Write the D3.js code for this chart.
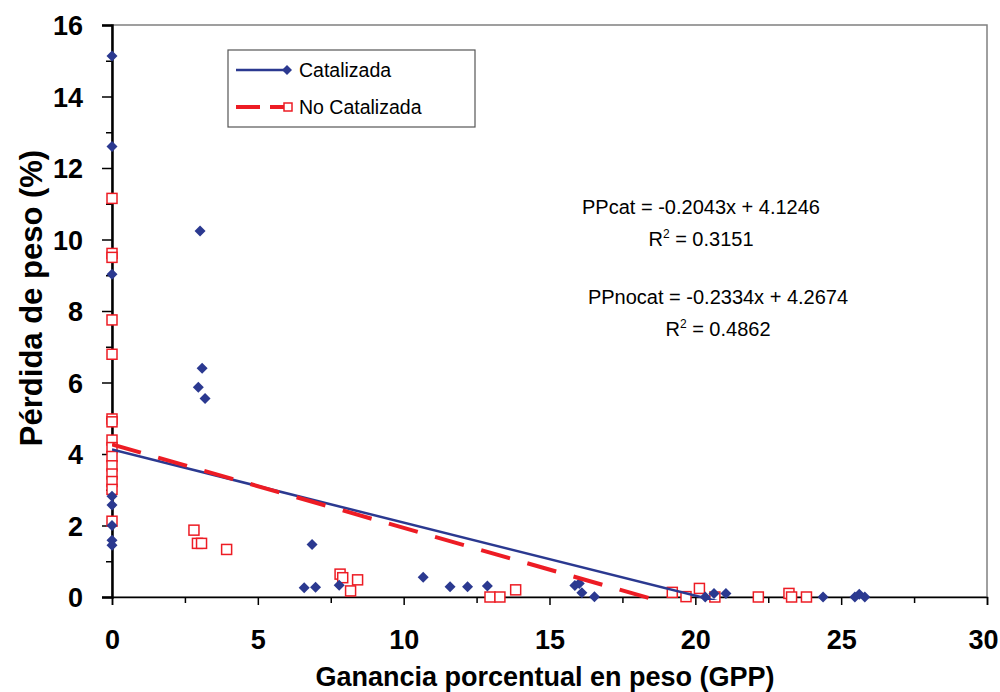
<!DOCTYPE html>
<html><head><meta charset="utf-8">
<script src="https://cdn.jsdelivr.net/npm/d3@7"></script>
<style>
html,body{margin:0;padding:0;background:#fff;}
svg{display:block;font-family:"Liberation Sans",Arial,sans-serif;}
</style></head>
<body>
<svg id="chart" width="1000" height="692"></svg>
<script>
// ---- data ----
const catX = [0,0,0,0,0,0,0,0, 2.96,3.02,3.09,3.19, 6.59,6.86,6.98,7.79, 10.67, 11.59,12.19,12.87, 15.87,16.02,16.11,16.54, 20.34,20.64,21.05, 24.38,25.47,25.62,25.81];
const catY = [15.13,12.6,9.03,2.82,2.57,2.0,1.59,1.45, 5.87,10.24,6.40,5.55, 0.26,1.47,0.27,0.33, 0.55, 0.29,0.29,0.31, 0.32,0.38,0.12,0.01, 0,0.1,0.1, 0,0,0.08,0];
const nocatX = [0,0,0,0,0,0,0,0,0,0,0,0,0,0,0, 2.81,2.93,3.07,3.93, 7.82,7.91,8.18,8.42, 12.96,13.30,13.84, 19.21,19.68,20.14,20.67, 22.16,23.21,23.30,23.81];
const nocatY = [11.15,9.61,9.50,7.75,6.79,4.98,4.90,4.39,4.18,3.93,3.67,3.44,3.23,3.01,2.12, 1.87,1.50,1.50,1.33, 0.64,0.54,0.17,0.48, 0,0,0.2, 0.13,0.01,0.24,0, 0,0.1,0,0];
const catFit = {slope:-0.2043, intercept:4.1246, r2:"0.3151"};
const nocatFit = {slope:-0.2334, intercept:4.2674, r2:"0.4862"};
const xTicks = [0,5,10,15,20,25,30];
const xMinor = [2.5,7.5,12.5,17.5,22.5,27.5];
const yTicks = [0,2,4,6,8,10,12,14,16];
const yMinor = [1,3,5,7,9,11,13,15];
const seriesNames = ["Catalizada","No Catalizada"];
const xTitle = "Ganancia porcentual en peso (GPP)";
const yTitle = "Pérdida de peso (%)";

const BLUE = "#2b3990", RED = "#ed1c24";
const L = 112, R = 987, T = 25, B = 597;
const svg = d3.select("#chart");
const x = d3.scaleLinear().domain([0,30]).range([L,R]);
const y = d3.scaleLinear().domain([0,16]).range([B,T]);

svg.append("clipPath").attr("id","clip").append("rect")
  .attr("x",L).attr("y",T).attr("width",R-L).attr("height",B-T+3);

// border (top/right gray)
svg.append("rect").attr("x",L).attr("y",T).attr("width",R-L).attr("height",B-T)
  .attr("fill","none").attr("stroke","#808080").attr("stroke-width",1.5);

// axes
const xAxis = d3.axisBottom(x).tickValues(xTicks).tickSize(8).tickFormat(d3.format("d"));
const gx = svg.append("g").attr("transform",`translate(0,${B})`).call(xAxis);
gx.select(".domain").attr("stroke","#000").attr("stroke-width",1.5);
gx.selectAll(".tick line").attr("stroke","#000").attr("stroke-width",1.5);
gx.selectAll(".tick text").attr("font-size",27).attr("font-weight","bold").attr("fill","#000")
  .attr("font-family","Liberation Sans, Arial, sans-serif").attr("y",null).attr("dy",null)
  .attr("transform",(d,i,n)=> i===n.length-1 ? "translate(-4,52)" : "translate(0,52)");
const gxm = svg.append("g").attr("transform",`translate(0,${B})`)
  .call(d3.axisBottom(x).tickValues(xMinor).tickSize(6).tickFormat(""));
gxm.select(".domain").remove();
gxm.selectAll(".tick line").attr("stroke","#000").attr("stroke-width",1.5);

const yAxis = d3.axisLeft(y).tickValues(yTicks).tickSize(10).tickFormat(d3.format("d"));
const gy = svg.append("g").attr("transform",`translate(${L},0)`).call(yAxis);
gy.select(".domain").attr("stroke","#000").attr("stroke-width",2.5);
gy.selectAll(".tick line").attr("stroke","#000").attr("stroke-width",1.5);
gy.selectAll(".tick text").attr("font-size",27).attr("font-weight","bold").attr("fill","#000")
  .attr("font-family","Liberation Sans, Arial, sans-serif").attr("x",-29).attr("dy","0.36em");
const gym = svg.append("g").attr("transform",`translate(${L},0)`)
  .call(d3.axisLeft(y).tickValues(yMinor).tickSize(6).tickFormat(""));
gym.select(".domain").remove();
gym.selectAll(".tick line").attr("stroke","#000").attr("stroke-width",1.5);

// titles
svg.append("text").attr("x",545).attr("y",686).attr("text-anchor","middle")
  .attr("font-size",27).attr("font-weight","bold").text(xTitle);
svg.append("text").attr("transform",`translate(42,298) rotate(-90)`).attr("text-anchor","middle")
  .attr("font-size",31).attr("font-weight","bold").text(yTitle);

// points
const nocatPts = nocatX.map((v,i)=>[v,nocatY[i]]);
const catPts = catX.map((v,i)=>[v,catY[i]]);
const sq = 10;
svg.append("g").selectAll("rect").data(nocatPts).join("rect")
  .attr("x",d=>x(d[0])-sq/2).attr("y",d=>y(d[1])-sq/2).attr("width",sq).attr("height",sq)
  .attr("fill","#fff").attr("stroke",RED).attr("stroke-width",1.5);
svg.append("g").selectAll("path").data(catPts).join("path")
  .attr("transform",d=>`translate(${x(d[0])},${y(d[1])})`)
  .attr("d","M0,-5.5L5.5,0L0,5.5L-5.5,0Z").attr("fill",BLUE);

// trend lines (on top of markers)
const plot = svg.append("g").attr("clip-path","url(#clip)");
const line = d3.line().x(d=>x(d[0])).y(d=>y(d[1]));
const catXmax = d3.max(catX), nocatXmax = d3.max(nocatX);
plot.append("path").datum([[0,catFit.intercept],[catXmax,catFit.intercept+catFit.slope*catXmax]])
  .attr("d",line).attr("fill","none").attr("stroke",BLUE).attr("stroke-width",2.5);
plot.append("path").datum([[0,nocatFit.intercept],[nocatXmax,nocatFit.intercept+nocatFit.slope*nocatXmax]])
  .attr("d",line).attr("fill","none").attr("stroke",RED).attr("stroke-width",4)
  .attr("stroke-dasharray","30 18");

// legend
const lg = svg.append("g");
lg.append("rect").attr("x",228).attr("y",50).attr("width",247).attr("height",77)
  .attr("fill","#fff").attr("stroke","#555").attr("stroke-width",1.2);
lg.append("line").attr("x1",236).attr("x2",287).attr("y1",70).attr("y2",70)
  .attr("stroke",BLUE).attr("stroke-width",2.5);
lg.append("path").attr("transform","translate(287,70)").attr("d","M0,-5L5,0L0,5L-5,0Z").attr("fill",BLUE);
lg.append("text").attr("x",299).attr("y",77).attr("font-size",19.5).text(seriesNames[0]);
lg.append("line").attr("x1",236).attr("x2",284).attr("y1",107).attr("y2",107)
  .attr("stroke",RED).attr("stroke-width",4).attr("stroke-dasharray","24 10");
lg.append("rect").attr("x",284).attr("y",103).attr("width",8).attr("height",8)
  .attr("fill","#fff").attr("stroke",RED).attr("stroke-width",1.5);
lg.append("text").attr("x",299).attr("y",114).attr("font-size",19.5).text(seriesNames[1]);

// equations
function eq(cx, cy, name, fit){
  const s = fit.slope.toFixed(4), b = fit.intercept.toFixed(4);
  svg.append("text").attr("x",cx).attr("y",cy).attr("text-anchor","middle").attr("font-size",20)
    .text(`${name} = ${s}x + ${b}`);
  const t = svg.append("text").attr("x",cx).attr("y",cy+32).attr("text-anchor","middle").attr("font-size",20);
  t.append("tspan").text("R");
  t.append("tspan").attr("dy",-8).attr("font-size",12).text("2");
  t.append("tspan").attr("dy",8).text(` = ${fit.r2}`);
}
eq(701, 214, "PPcat", catFit);
eq(718, 304, "PPnocat", nocatFit);
</script>
</body></html>
